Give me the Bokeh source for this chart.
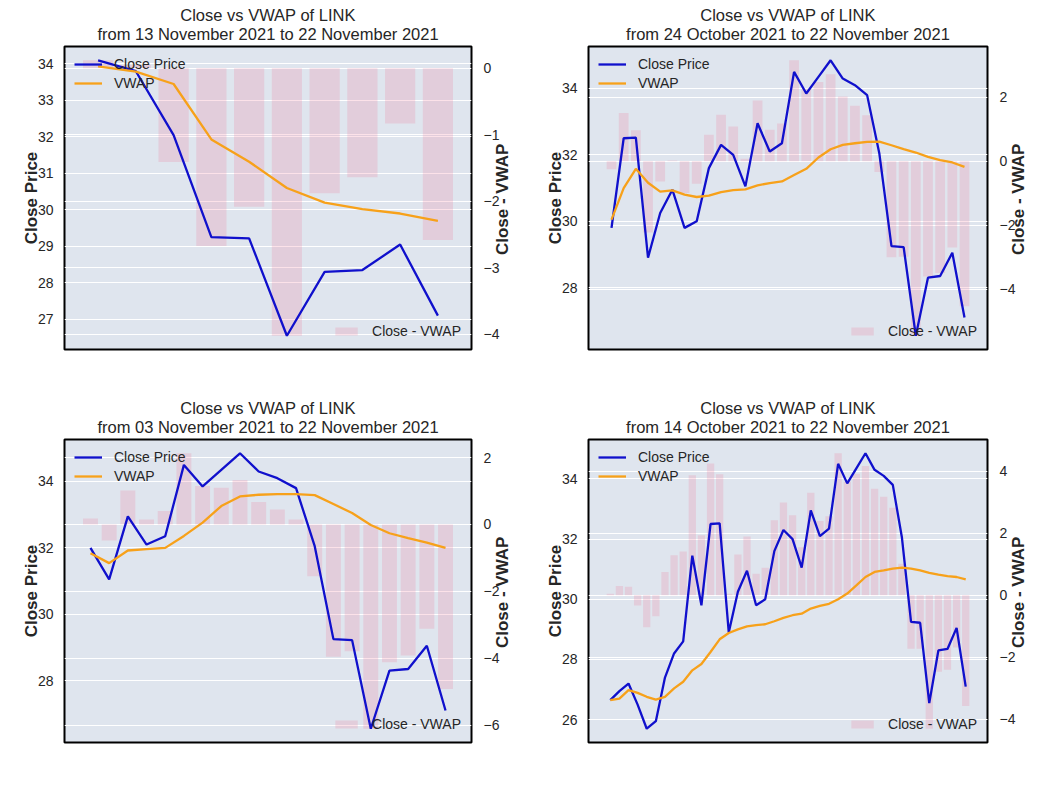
import math
from bokeh.plotting import figure
from bokeh.models import (Range1d, LinearAxis, Grid, FixedTicker, Legend, LegendItem,
                          Title, CustomJSTickFormatter)
from bokeh.layouts import gridplot
from bokeh.embed import file_html
from bokeh.resources import INLINE

# Daily close of LINK, 14 October 2021 .. 22 November 2021
close_all = [26.65, 26.95, 27.2, 26.5, 25.7, 25.95, 27.4, 28.2, 28.6, 31.45,
             29.8, 32.5, 32.52, 28.9, 30.25, 30.95, 29.8, 30.0, 31.6, 32.3,
             32.0, 31.05, 32.95, 32.1, 32.35, 34.5, 33.85, 34.35, 34.85, 34.3,
             34.1, 33.8, 32.05, 29.25, 29.22, 26.55, 28.3, 28.35, 29.05, 27.1]

vwap_13nov = [33.93, 33.79, 33.45, 31.93, 31.32, 30.6, 30.2, 30.02, 29.9, 29.7]
diff_13nov = [0.12, 0.05, -1.41, -2.67, -2.08, -4.02, -1.88, -1.64, -0.83, -2.58]

vwap_24oct = [30.05, 31.0, 31.58, 31.16, 30.89, 30.93, 30.8, 30.73, 30.77, 30.88,
              30.94, 30.96, 31.08, 31.15, 31.2, 31.39, 31.58, 31.92, 32.17, 32.3,
              32.35, 32.39, 32.4, 32.29, 32.17, 32.07, 31.94, 31.84, 31.77, 31.64]
diff_24oct = [-0.25, 1.51, 0.97, -2.22, -0.63, 0.03, -0.99, -0.7, 0.83, 1.46,
              1.09, 0.08, 1.9, 0.99, 1.18, 3.16, 2.27, 2.48, 2.72, 2.03,
              1.74, 1.44, -0.33, -3.0, -2.98, -5.45, -3.6, -3.49, -2.69, -4.53]

vwap_03nov = [31.84, 31.54, 31.92, 31.96, 32.0, 32.36, 32.76, 33.26, 33.55, 33.6,
              33.62, 33.62, 33.59, 33.32, 33.05, 32.69, 32.44, 32.29, 32.16, 32.0]
diff_03nov = [0.18, -0.48, 1.02, 0.15, 0.4, 2.13, 1.15, 1.1, 1.33, 0.67,
              0.45, 0.15, -1.55, -3.96, -3.79, -6.11, -4.12, -3.92, -3.12, -4.92]

vwap_14oct = [26.65, 26.7, 26.98, 26.89, 26.76, 26.67, 26.76, 27.04, 27.26, 27.64,
              27.85, 28.25, 28.67, 28.88, 29.0, 29.1, 29.14, 29.17, 29.27, 29.38,
              29.47, 29.52, 29.69, 29.78, 29.85, 30.0, 30.19, 30.46, 30.74, 30.91,
              30.96, 31.02, 31.05, 31.02, 30.96, 30.88, 30.82, 30.77, 30.74, 30.66]
diff_14oct = [0.05, 0.3, 0.28, -0.33, -1.03, -0.67, 0.75, 1.29, 1.41, 3.87,
              1.94, 4.25, 3.9, 0.05, 1.32, 1.9, 0.7, 0.89, 2.42, 2.99,
              2.58, 1.55, 3.31, 2.4, 2.55, 4.58, 3.66, 3.92, 4.17, 3.44,
              3.18, 2.82, 1.02, -1.72, -1.72, -4.3, -2.46, -2.4, -1.68, -3.57]

start_dates = ["13 November 2021", "24 October 2021", "03 November 2021", "14 October 2021"]
end_date = "22 November 2021"
right_label = "Close - VWAP"

FONT = "Liberation Sans"
TXT = "#262626"
BG = "#dfe5ee"

minus_fmt_code = "return (tick < 0 ? '\\u2212' : '') + Math.abs(tick).toString();"


def make_panel(start, vwap, diff, lticks, rticks, width, height, bl, br, bt, bb):
    n = len(vwap)
    close = close_all[len(close_all) - n:]
    x = list(range(n))
    lo = min(min(close), min(vwap))
    hi = max(max(close), max(vwap))
    pad = 0.05 * (hi - lo)
    dlo = min(min(diff), 0.0)
    dhi = max(max(diff), 0.0)
    dpad = 0.05 * (dhi - dlo)
    xpad = 0.05 * (n - 1 + 0.8)
    x_end = n - 1 + 0.4 + xpad

    p = figure(width=width, height=height, output_backend="svg", toolbar_location=None,
               x_range=Range1d(-0.4 - xpad, x_end),
               y_range=Range1d(lo - pad, hi + pad),
               x_axis_location=None,
               min_border_left=bl, min_border_right=br, min_border_top=bt, min_border_bottom=bb,
               background_fill_color=BG, border_fill_color="white",
               outline_line_color="black", outline_line_width=2, outline_line_alpha=1.0)
    p.extra_y_ranges = {"diff": Range1d(dlo - dpad, dhi + dpad)}
    p.xgrid.visible = False

    lt = FixedTicker(ticks=lticks)
    ax = p.yaxis[0]
    ax.ticker = lt
    ax.axis_label = "Close Price"
    ax.axis_label_text_font = FONT
    ax.axis_label_text_font_style = "bold"
    ax.axis_label_text_font_size = "17px"
    ax.axis_label_text_color = TXT
    ax.axis_label_standoff = -6
    ax.major_label_text_font = FONT
    ax.major_label_text_font_size = "14px"
    ax.major_label_text_color = TXT
    ax.major_label_standoff = 5
    ax.axis_line_color = None
    ax.major_tick_line_color = None
    ax.minor_tick_line_color = None
    p.ygrid.ticker = lt
    p.ygrid.grid_line_color = "white"
    p.ygrid.grid_line_width = 1.2

    rt = FixedTicker(ticks=rticks)
    rax = LinearAxis(y_range_name="diff", ticker=rt,
                     formatter=CustomJSTickFormatter(code=minus_fmt_code))
    rax.axis_label_text_font = FONT
    rax.axis_label_text_font_style = "bold"
    rax.axis_label_text_font_size = "17px"
    rax.axis_label_text_color = TXT
    rax.axis_label_standoff = 0
    rax.major_label_text_font = FONT
    rax.major_label_text_font_size = "14px"
    rax.major_label_text_color = TXT
    rax.major_label_standoff = 6
    rax.axis_line_color = None
    rax.major_tick_line_color = None
    rax.minor_tick_line_color = None
    label_text = right_label
    try:
        rax.axis_label_orientation = math.pi / 2
        try:
            rax.axis_label_align = "start"
            label_text = "\u00a0" * 20 + right_label
        except Exception:
            pass
    except Exception:
        pass
    rax.axis_label = label_text
    p.add_layout(rax, "right")
    rgrid = Grid(dimension=1, ticker=rt, y_range_name="diff",
                 grid_line_color="white", grid_line_width=1.2)
    p.add_layout(rgrid)

    r_bar = p.vbar(x=x, top=diff, bottom=0, width=0.8, y_range_name="diff",
                   fill_color="#f07090", fill_alpha=0.2, line_color=None)
    r_close = p.line(x, close, line_color="#1010cc", line_width=2.3)
    r_vwap = p.line(x, vwap, line_color="#f7a11a", line_width=2.3)

    leg1 = Legend(items=[LegendItem(label="Close Price", renderers=[r_close]),
                         LegendItem(label="VWAP", renderers=[r_vwap])],
                  location="top_left", background_fill_alpha=0, border_line_color=None,
                  label_text_font=FONT, label_text_font_size="14px", label_text_color=TXT,
                  glyph_width=28, glyph_height=14, label_height=16, spacing=3,
                  label_standoff=12, margin=10, padding=5)
    leg2 = Legend(items=[LegendItem(label="Close - VWAP", renderers=[r_bar])],
                  location="bottom_right", background_fill_alpha=0, border_line_color=None,
                  label_text_font=FONT, label_text_font_size="14px", label_text_color=TXT,
                  glyph_width=28, glyph_height=10, label_height=16,
                  label_standoff=12, margin=10, padding=5)
    p.add_layout(leg1)
    p.add_layout(leg2)

    p.add_layout(Title(text="from %s to %s" % (start, end_date), align="center",
                       text_font=FONT, text_font_size="16.5px", text_font_style="normal",
                       text_color=TXT, standoff=8), "above")
    p.add_layout(Title(text="Close vs VWAP of LINK", align="center",
                       text_font=FONT, text_font_size="16.5px", text_font_style="normal",
                       text_color=TXT, standoff=-10), "above")
    return p


p1 = make_panel(start_dates[0], vwap_13nov, diff_13nov, [27, 28, 29, 30, 31, 32, 33, 34],
                [-4, -3, -2, -1, 0], 527, 397, 64, 56, 46, 48)
p2 = make_panel(start_dates[1], vwap_24oct, diff_24oct, [28, 30, 32, 34],
                [-4, -2, 0, 2], 513, 397, 61, 50, 46, 48)
p3 = make_panel(start_dates[2], vwap_03nov, diff_03nov, [28, 30, 32, 34],
                [-6, -4, -2, 0, 2], 527, 381, 64, 56, 42, 36)
p4 = make_panel(start_dates[3], vwap_14oct, diff_14oct, [26, 28, 30, 32, 34],
                [-4, -2, 0, 2, 4], 513, 381, 61, 50, 42, 36)

p = gridplot([[p1, p2], [p3, p4]], toolbar_location=None)

open("out.html", "w").write(file_html(p, INLINE))
